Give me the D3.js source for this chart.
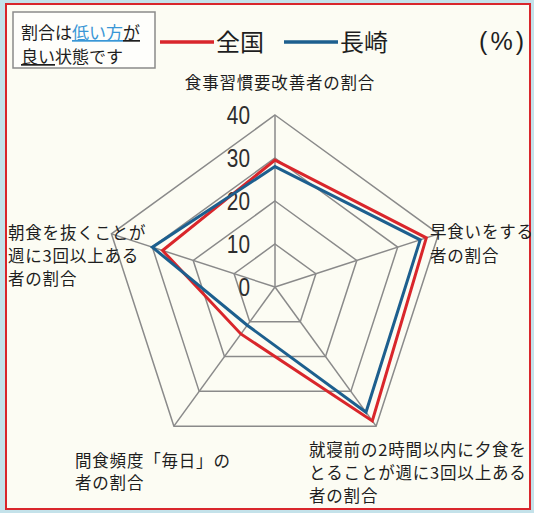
<!DOCTYPE html>
<html>
<head>
<meta charset="utf-8">
<script src="https://cdn.jsdelivr.net/npm/d3@7"></script>
<style>
  html, body { margin: 0; padding: 0; background: #c4e2ea; }
  svg { display: block; }
</style>
</head>
<body>
<svg width="534" height="513"></svg>
<script>
const width = 534;
const height = 513;

// axis labels, clockwise from the top
const categories = [
  ["食事習慣要改善者の割合"],
  ["早食いをする", "者の割合"],
  ["就寝前の2時間以内に夕食を", "とることが週に3回以上ある", "者の割合"],
  ["間食頻度「毎日」の", "者の割合"],
  ["朝食を抜くことが", "週に3回以上ある", "者の割合"]
];
const seriesNames = ["全国", "長崎"];
const zenkoku = [29.5, 37, 38.5, 13.5, 27.5];
const nagasaki = [28, 35.5, 36, 11, 30];
const tickValues = [0, 10, 20, 30, 40];

const cx = 275;
const cy = 287;
const outer = 172;
const red = "#d9262b";
const blue = "#1d5f8e";
const grey = "#8a8a8a";
const jp = "'Noto Sans CJK JP', sans-serif";

let svg = d3.select("svg");

// frame
svg.append("rect")
  .attr("x", 6).attr("y", 4)
  .attr("width", 524).attr("height", 505)
  .attr("fill", "#fcfcf3")
  .attr("stroke", red)
  .attr("stroke-width", 2);

const r = d3.scaleLinear().domain([0, 40]).range([0, outer]);
const angle = d3.scaleLinear().domain([0, categories.length]).range([0, 2 * Math.PI]);

let chart = svg.append("g").attr("transform", `translate(${cx},${cy})`);

// rings
const ring = d3.lineRadial()
  .angle((d, i) => angle(i))
  .radius(d => r(d))
  .curve(d3.curveLinearClosed);

tickValues.filter(t => t > 0).forEach(t => {
  chart.append("path")
    .attr("d", ring(categories.map(() => t)))
    .attr("fill", "none")
    .attr("stroke", grey)
    .attr("stroke-width", 1.5);
});

// spokes
categories.forEach((c, i) => {
  const a = angle(i);
  chart.append("line")
    .attr("x1", 0).attr("y1", 0)
    .attr("x2", r(40) * Math.sin(a))
    .attr("y2", -r(40) * Math.cos(a))
    .attr("stroke", grey)
    .attr("stroke-width", 1.5);
});

// tick labels, squeezed to look like the narrow face in the original
chart.selectAll(".tick")
  .data(tickValues)
  .join("text")
  .attr("class", "tick")
  .attr("transform", d => `translate(-25,${-r(d) + 9}) scale(0.8,1)`)
  .attr("text-anchor", "end")
  .attr("font-family", "'Liberation Sans', sans-serif")
  .attr("font-size", 26)
  .attr("fill", "#2e2e2e")
  .text(d => d);

// series
[[zenkoku, red], [nagasaki, blue]].forEach(([vals, color]) => {
  chart.append("path")
    .attr("d", ring(vals))
    .attr("fill", "none")
    .attr("stroke", color)
    .attr("stroke-width", 3)
    .attr("stroke-linejoin", "miter");
});

// category labels
const labelPos = [
  { x: 280, y: 89, anchor: "middle" },
  { x: 430, y: 238, anchor: "start" },
  { x: 309, y: 456, anchor: "start" },
  { x: 75, y: 467, anchor: "start" },
  { x: 8, y: 239, anchor: "start" }
];
const lineGap = [0, 24, 23, 22, 23];

categories.forEach((lines, i) => {
  const p = labelPos[i];
  const t = svg.append("text")
    .attr("font-family", jp)
    .attr("font-size", 16.5)
    .attr("letter-spacing", 0.8)
    .attr("fill", "#1e1e1e")
    .attr("text-anchor", p.anchor);
  lines.forEach((s, k) => {
    t.append("tspan")
      .attr("x", p.x)
      .attr("y", p.y + k * lineGap[i])
      .text(s);
  });
});

// note box
svg.append("rect")
  .attr("x", 13).attr("y", 12)
  .attr("width", 142).attr("height", 56)
  .attr("fill", "#fefefb")
  .attr("stroke", grey)
  .attr("stroke-width", 1.5);

const note1 = svg.append("text")
  .attr("x", 21).attr("y", 39)
  .attr("font-family", jp).attr("font-size", 17)
  .attr("fill", "#1e1e1e");
note1.append("tspan").text("割合は");
note1.append("tspan").attr("fill", "#3a97d6").attr("text-decoration", "underline").text("低い方");
note1.append("tspan").attr("text-decoration", "underline").text("が");

const note2 = svg.append("text")
  .attr("x", 21).attr("y", 63)
  .attr("font-family", jp).attr("font-size", 17)
  .attr("fill", "#1e1e1e");
note2.append("tspan").attr("text-decoration", "underline").text("良い");
note2.append("tspan").text("状態です");

// legend
const legendX = [160, 284];
seriesNames.forEach((name, i) => {
  const color = [red, blue][i];
  svg.append("line")
    .attr("x1", legendX[i]).attr("x2", legendX[i] + 54)
    .attr("y1", 42).attr("y2", 42)
    .attr("stroke", color)
    .attr("stroke-width", 3.5);
  svg.append("text")
    .attr("x", legendX[i] + 56).attr("y", 51)
    .attr("font-family", jp).attr("font-size", 24)
    .attr("fill", "#1e1e1e")
    .text(name);
});

svg.append("text")
  .attr("x", 527).attr("y", 50)
  .attr("text-anchor", "end")
  .attr("font-family", "'Liberation Sans', sans-serif")
  .attr("font-size", 25)
  .attr("letter-spacing", 3)
  .attr("fill", "#1e1e1e")
  .text("(%)");
</script>
</body>
</html>
